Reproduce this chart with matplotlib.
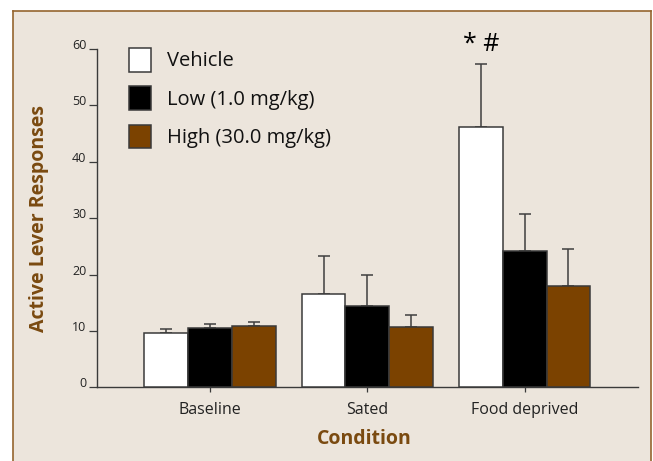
import matplotlib
matplotlib.use("Agg")
import matplotlib.pyplot as plt
import numpy as np

plt.rcParams['font.family'] = ['Open Sans', 'DejaVu Sans']

conditions = ["Baseline", "Sated", "Food deprived"]
series_names = ["Vehicle", "Low (1.0 mg/kg)", "High (30.0 mg/kg)"]
vehicle = [9.6, 16.5, 46.1]
vehicle_err = [0.7, 6.8, 11.2]
low = [10.45, 14.5, 24.1]
low_err = [0.75, 5.5, 6.7]
high = [10.8, 10.75, 17.9]
high_err = [0.8, 2.15, 6.7]
yticks = [0, 10, 20, 30, 40, 50, 60]
annotation = "* #"

BG = "#ECE5DC"
BROWN = "#7B4200"
LABEL_BROWN = "#7A4A10"
EDGE = "#3a3a3a"

fig = plt.figure(figsize=(6.53, 4.61), dpi=100)
fig.patch.set_facecolor("white")

# beige panel with brown frame (background axes)
bg = fig.add_axes([13 / 653, -0.02, (651 - 13) / 653, (461 - 11.5) / 461 + 0.02], zorder=-5)
bg.set_facecolor(BG)
bg.set_xticks([])
bg.set_yticks([])
for s in bg.spines.values():
    s.set_color("#95652F")
    s.set_linewidth(1.2)
bg.spines["bottom"].set_visible(False)

ax = fig.add_axes([97.3 / 653, 73.7 / 461, (638 - 97.3) / 653, (412 - 73.7) / 461], zorder=1)
ax.set_facecolor("none")

x = np.arange(len(conditions))
w = 0.278
colors = ["white", "black", BROWN]
vals = [vehicle, low, high]
errs = [vehicle_err, low_err, high_err]
handles = []
for i, (v, e, c, name) in enumerate(zip(vals, errs, colors, series_names)):
    pos = x + (i - 1) * w
    b = ax.bar(pos, v, width=w, color=c, edgecolor=EDGE, linewidth=1.1, label=name, zorder=3)
    handles.append(b)
    ax.errorbar(pos, v, yerr=[np.zeros(len(v)), e], fmt="none", ecolor="#3f3f3f",
                elinewidth=1.1, capsize=4.2, capthick=1.1, zorder=2)

# annotation above the food-deprived vehicle bar
ax.text(x[2] - w, vehicle[2] + vehicle_err[2] + 2.4, annotation, ha="center", va="baseline",
        fontsize=18, color="black", clip_on=False)

ax.set_xlim(-0.716, 2.72)
ax.set_ylim(0, 60)
ax.set_yticks(yticks)
ax.set_yticklabels([str(t) for t in yticks])
ax.set_xticks(x)
ax.set_xticklabels(conditions, fontsize=11.5, color="#222222")
for lab in ax.get_yticklabels():
    lab.set_verticalalignment("baseline")
    lab.set_fontsize(9)
    lab.set_color("#222222")
ax.tick_params(axis="y", direction="out", length=6, width=0.9, pad=2, color=EDGE)
ax.tick_params(axis="x", direction="out", length=3.6, width=0.9, pad=7, color=EDGE)

for s in ["top", "right"]:
    ax.spines[s].set_visible(False)
for s in ["left", "bottom"]:
    ax.spines[s].set_color(EDGE)
    ax.spines[s].set_linewidth(1.0)

ax.set_ylabel("Active Lever Responses", fontsize=14, fontweight="bold", color=LABEL_BROWN)
ax.set_xlabel("Condition", fontsize=14, fontweight="bold", color=LABEL_BROWN)
ax.yaxis.label.set_va("center")
ax.xaxis.label.set_va("center")
ax.yaxis.set_label_coords((39 - 97.3) / 540.7, 0.5)
ax.xaxis.set_label_coords((364 - 97.3) / 540.7, (387.3 - 439) / 338.3)

leg = ax.legend(handles=handles, loc="upper left",
                bbox_to_anchor=((129 - 97.3) / 540.7, 1.003),
                frameon=False, fontsize=14.5, handlelength=1.09, handleheight=1.43,
                handletextpad=0.8, labelspacing=0.73, borderpad=0, borderaxespad=0)
for t in leg.get_texts():
    t.set_color("#111111")

fig.savefig("out.png", dpi=100, facecolor=fig.get_facecolor())
